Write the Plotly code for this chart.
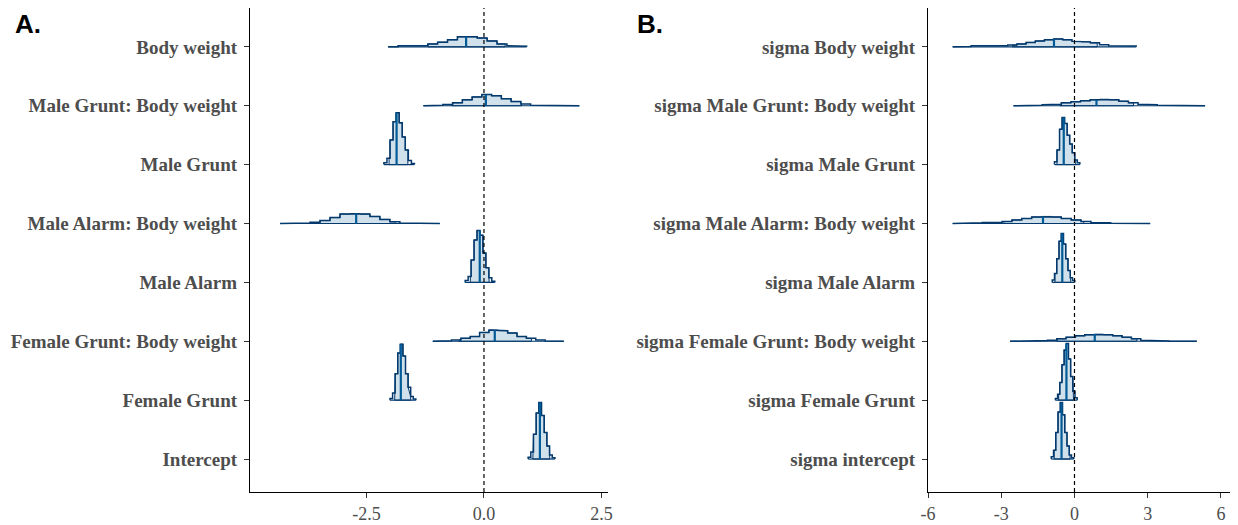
import numpy as np
import plotly.graph_objects as go

# ---- Panel A: regression coefficients (bottom row first) ----
params_a = ["Intercept", "Female Grunt", "Female Grunt: Body weight", "Male Alarm",
            "Male Alarm: Body weight", "Male Grunt", "Male Grunt: Body weight", "Body weight"]
lo_a = [0.94, -2.00, -1.09, -0.40, -4.34, -2.13, -1.29, -2.04]
hi_a = [1.51, -1.45, 1.70, 0.23, -0.94, -1.48, 2.03, 0.91]
median_a = [1.19, -1.77, 0.23, -0.09, -2.72, -1.86, 0.04, -0.38]
inner_lo_a = [1.04, -1.90, -0.53, -0.29, -3.49, -2.02, -0.69, -1.19]
inner_hi_a = [1.40, -1.56, 1.01, 0.11, -1.89, -1.62, 0.80, 0.45]
dens_a = [
    [0.03, 0.12, 0.42, 0.78, 0.96, 0.74, 0.45, 0.22, 0.07, 0.02],
    [0.03, 0.12, 0.45, 0.80, 0.95, 0.75, 0.45, 0.22, 0.06, 0.02],
    [0, 0.01, 0.02, 0.05, 0.08, 0.15, 0.19, 0.18, 0.14, 0.08, 0.05, 0.02, 0.005, 0],
    [0.03, 0.10, 0.38, 0.72, 0.88, 0.80, 0.50, 0.25, 0.08, 0.02],
    [0, 0, 0.01, 0.02, 0.05, 0.10, 0.16, 0.17, 0.16, 0.12, 0.07, 0.03, 0.01, 0.005, 0, 0],
    [0.03, 0.11, 0.42, 0.73, 0.88, 0.71, 0.47, 0.25, 0.07, 0.02],
    [0, 0.01, 0.02, 0.05, 0.10, 0.15, 0.19, 0.17, 0.12, 0.07, 0.03, 0.01, 0, 0, 0, 0],
    [0, 0.02, 0.02, 0.02, 0.05, 0.08, 0.12, 0.17, 0.17, 0.15, 0.10, 0.05, 0.02, 0.01],
]

# ---- Panel B: sigma (scale) coefficients (bottom row first) ----
params_b = ["sigma intercept", "sigma Female Grunt", "sigma Female Grunt: Body weight",
            "sigma Male Alarm", "sigma Male Alarm: Body weight", "sigma Male Grunt",
            "sigma Male Grunt: Body weight", "sigma Body weight"]
lo_b = [-0.95, -0.78, -2.64, -0.91, -4.99, -0.82, -2.50, -4.99]
hi_b = [-0.03, 0.11, 5.01, 0.01, 3.10, 0.22, 5.35, 2.53]
median_b = [-0.53, -0.33, 0.83, -0.50, -1.29, -0.44, 0.90, -0.84]
inner_lo_b = [-0.83, -0.65, -0.71, -0.80, -2.89, -0.72, -0.60, -2.54]
inner_hi_b = [-0.18, -0.04, 2.56, -0.15, 0.38, 0.05, 2.42, 0.93]
dens_b = [
    [0.04, 0.15, 0.45, 0.80, 0.96, 0.75, 0.45, 0.22, 0.07, 0.02],
    [0.03, 0.10, 0.30, 0.60, 0.85, 0.96, 0.70, 0.40, 0.15, 0.04],
    [0, 0, 0, 0.012, 0.017, 0.042, 0.068, 0.093, 0.11, 0.12, 0.11, 0.093, 0.068, 0.042,
     0.017, 0.012, 0.005, 0, 0, 0],
    [0.04, 0.15, 0.40, 0.70, 0.83, 0.65, 0.40, 0.20, 0.08, 0.03],
    [0, 0, 0.012, 0.017, 0.02, 0.034, 0.06, 0.085, 0.11, 0.12, 0.11, 0.085, 0.06, 0.034,
     0.017, 0.012, 0.003, 0, 0, 0],
    [0.05, 0.25, 0.60, 0.80, 0.70, 0.50, 0.35, 0.20, 0.08, 0.03],
    [0, 0, 0.01, 0.017, 0.025, 0.05, 0.068, 0.085, 0.10, 0.11, 0.10, 0.076, 0.05, 0.025,
     0.017, 0.008, 0, 0, 0, 0],
    [0, 0.005, 0.017, 0.017, 0.017, 0.02, 0.03, 0.05, 0.076, 0.10, 0.12, 0.135, 0.12, 0.093,
     0.085, 0.068, 0.034, 0.02, 0.017, 0.014],
]

FILL = "#d1e1ec"
OUTLINE = "#03396c"
MEDIAN = "#005b96"
LABEL = "#4D4D4D"


def height_at(x, edges, dens):
    i = int(np.clip(np.searchsorted(edges, x, side="right") - 1, 0, len(dens) - 1))
    return dens[i]


def add_density(fig, lo, hi, dens, flo, fhi, med, base, xa, ya):
    edges = np.linspace(lo, hi, len(dens) + 1)

    # shaded central interval
    fx, fy = [flo, flo], [base, base + height_at(flo, edges, dens)]
    for i in range(1, len(edges) - 1):
        e = edges[i]
        if flo < e < fhi:
            fx += [e, e]
            fy += [base + dens[i - 1], base + dens[i]]
    fx += [fhi, fhi, flo]
    fy += [base + height_at(fhi, edges, dens), base, base]
    fig.add_trace(go.Scatter(x=fx, y=fy, fill="toself", fillcolor=FILL, mode="lines",
                             line=dict(color=OUTLINE, width=1), hoverinfo="skip",
                             showlegend=False, xaxis=xa, yaxis=ya))

    # baseline across the full range
    fig.add_trace(go.Scatter(x=[lo, hi], y=[base, base], mode="lines",
                             line=dict(color=OUTLINE, width=1.2), hoverinfo="skip",
                             showlegend=False, xaxis=xa, yaxis=ya))

    # stepped density outline
    ox, oy = [lo], [base]
    for i, h in enumerate(dens):
        ox += [edges[i], edges[i + 1]]
        oy += [base + h, base + h]
    ox.append(hi)
    oy.append(base)
    fig.add_trace(go.Scatter(x=ox, y=oy, mode="lines",
                             line=dict(color=OUTLINE, width=1.5), hoverinfo="skip",
                             showlegend=False, xaxis=xa, yaxis=ya))

    # median
    fig.add_trace(go.Scatter(x=[med, med], y=[base, base + height_at(med, edges, dens)],
                             mode="lines", line=dict(color=MEDIAN, width=2.2),
                             hoverinfo="skip", showlegend=False, xaxis=xa, yaxis=ya))


fig = go.Figure()
rows = list(range(1, len(params_a) + 1))
for k in range(len(params_a)):
    add_density(fig, lo_a[k], hi_a[k], dens_a[k], inner_lo_a[k], inner_hi_a[k],
                median_a[k], rows[k], "x", "y")
for k in range(len(params_b)):
    add_density(fig, lo_b[k], hi_b[k], dens_b[k], inner_lo_b[k], inner_hi_b[k],
                median_b[k], rows[k], "x2", "y2")

W, H = 1238, 525
ydom = [1 - 492 / H, 1 - 8 / H]
tickfont_x = dict(family="Liberation Serif", size=18, color=LABEL)
tickfont_y = dict(family="Liberation Serif", size=19, color=LABEL, weight="bold")
common_axis = dict(showgrid=False, zeroline=False, showline=True, linecolor="black",
                   linewidth=1.3, ticks="outside", ticklen=5, tickcolor="#333333",
                   tickwidth=1.3, automargin=False)

fig.update_layout(
    template="none",
    width=W, height=H,
    margin=dict(l=0, r=0, t=0, b=0, pad=0),
    plot_bgcolor="white", paper_bgcolor="white",
    xaxis=dict(domain=[250 / W, 608 / W], range=[-4.98, 2.64],
               tickvals=[-2.5, 0, 2.5], ticktext=["-2.5", "0.0", "2.5"],
               tickfont=tickfont_x, anchor="y", **common_axis),
    yaxis=dict(domain=ydom, range=[0.44, 8.66], tickvals=rows, ticktext=params_a,
               tickfont=tickfont_y, anchor="x", ticklabelstandoff=3, **common_axis),
    xaxis2=dict(domain=[928 / W, 1230 / W], range=[-6.0, 6.37],
                tickvals=[-6, -3, 0, 3, 6], ticktext=["-6", "-3", "0", "3", "6"],
                tickfont=tickfont_x, anchor="y2", **common_axis),
    yaxis2=dict(domain=ydom, range=[0.44, 8.66], tickvals=rows, ticktext=params_b,
                tickfont=tickfont_y, anchor="x2", ticklabelstandoff=3, **common_axis),
)

# reference line at zero in each panel
for xr, yr in (("x", "y domain"), ("x2", "y2 domain")):
    fig.add_shape(type="line", xref=xr, yref=yr, x0=0, x1=0, y0=0, y1=1,
                  line=dict(color="black", width=1.2, dash="4px,3px"), layer="above")

# panel letters
for txt, px in (("A.", 13), ("B.", 635)):
    fig.add_annotation(text=txt, xref="paper", yref="paper", x=px / W, y=1 - 24 / H,
                       xanchor="left", yanchor="middle", showarrow=False,
                       font=dict(family="Liberation Sans", size=26, color="black",
                                 weight="bold"))

fig.write_html("out.html")
